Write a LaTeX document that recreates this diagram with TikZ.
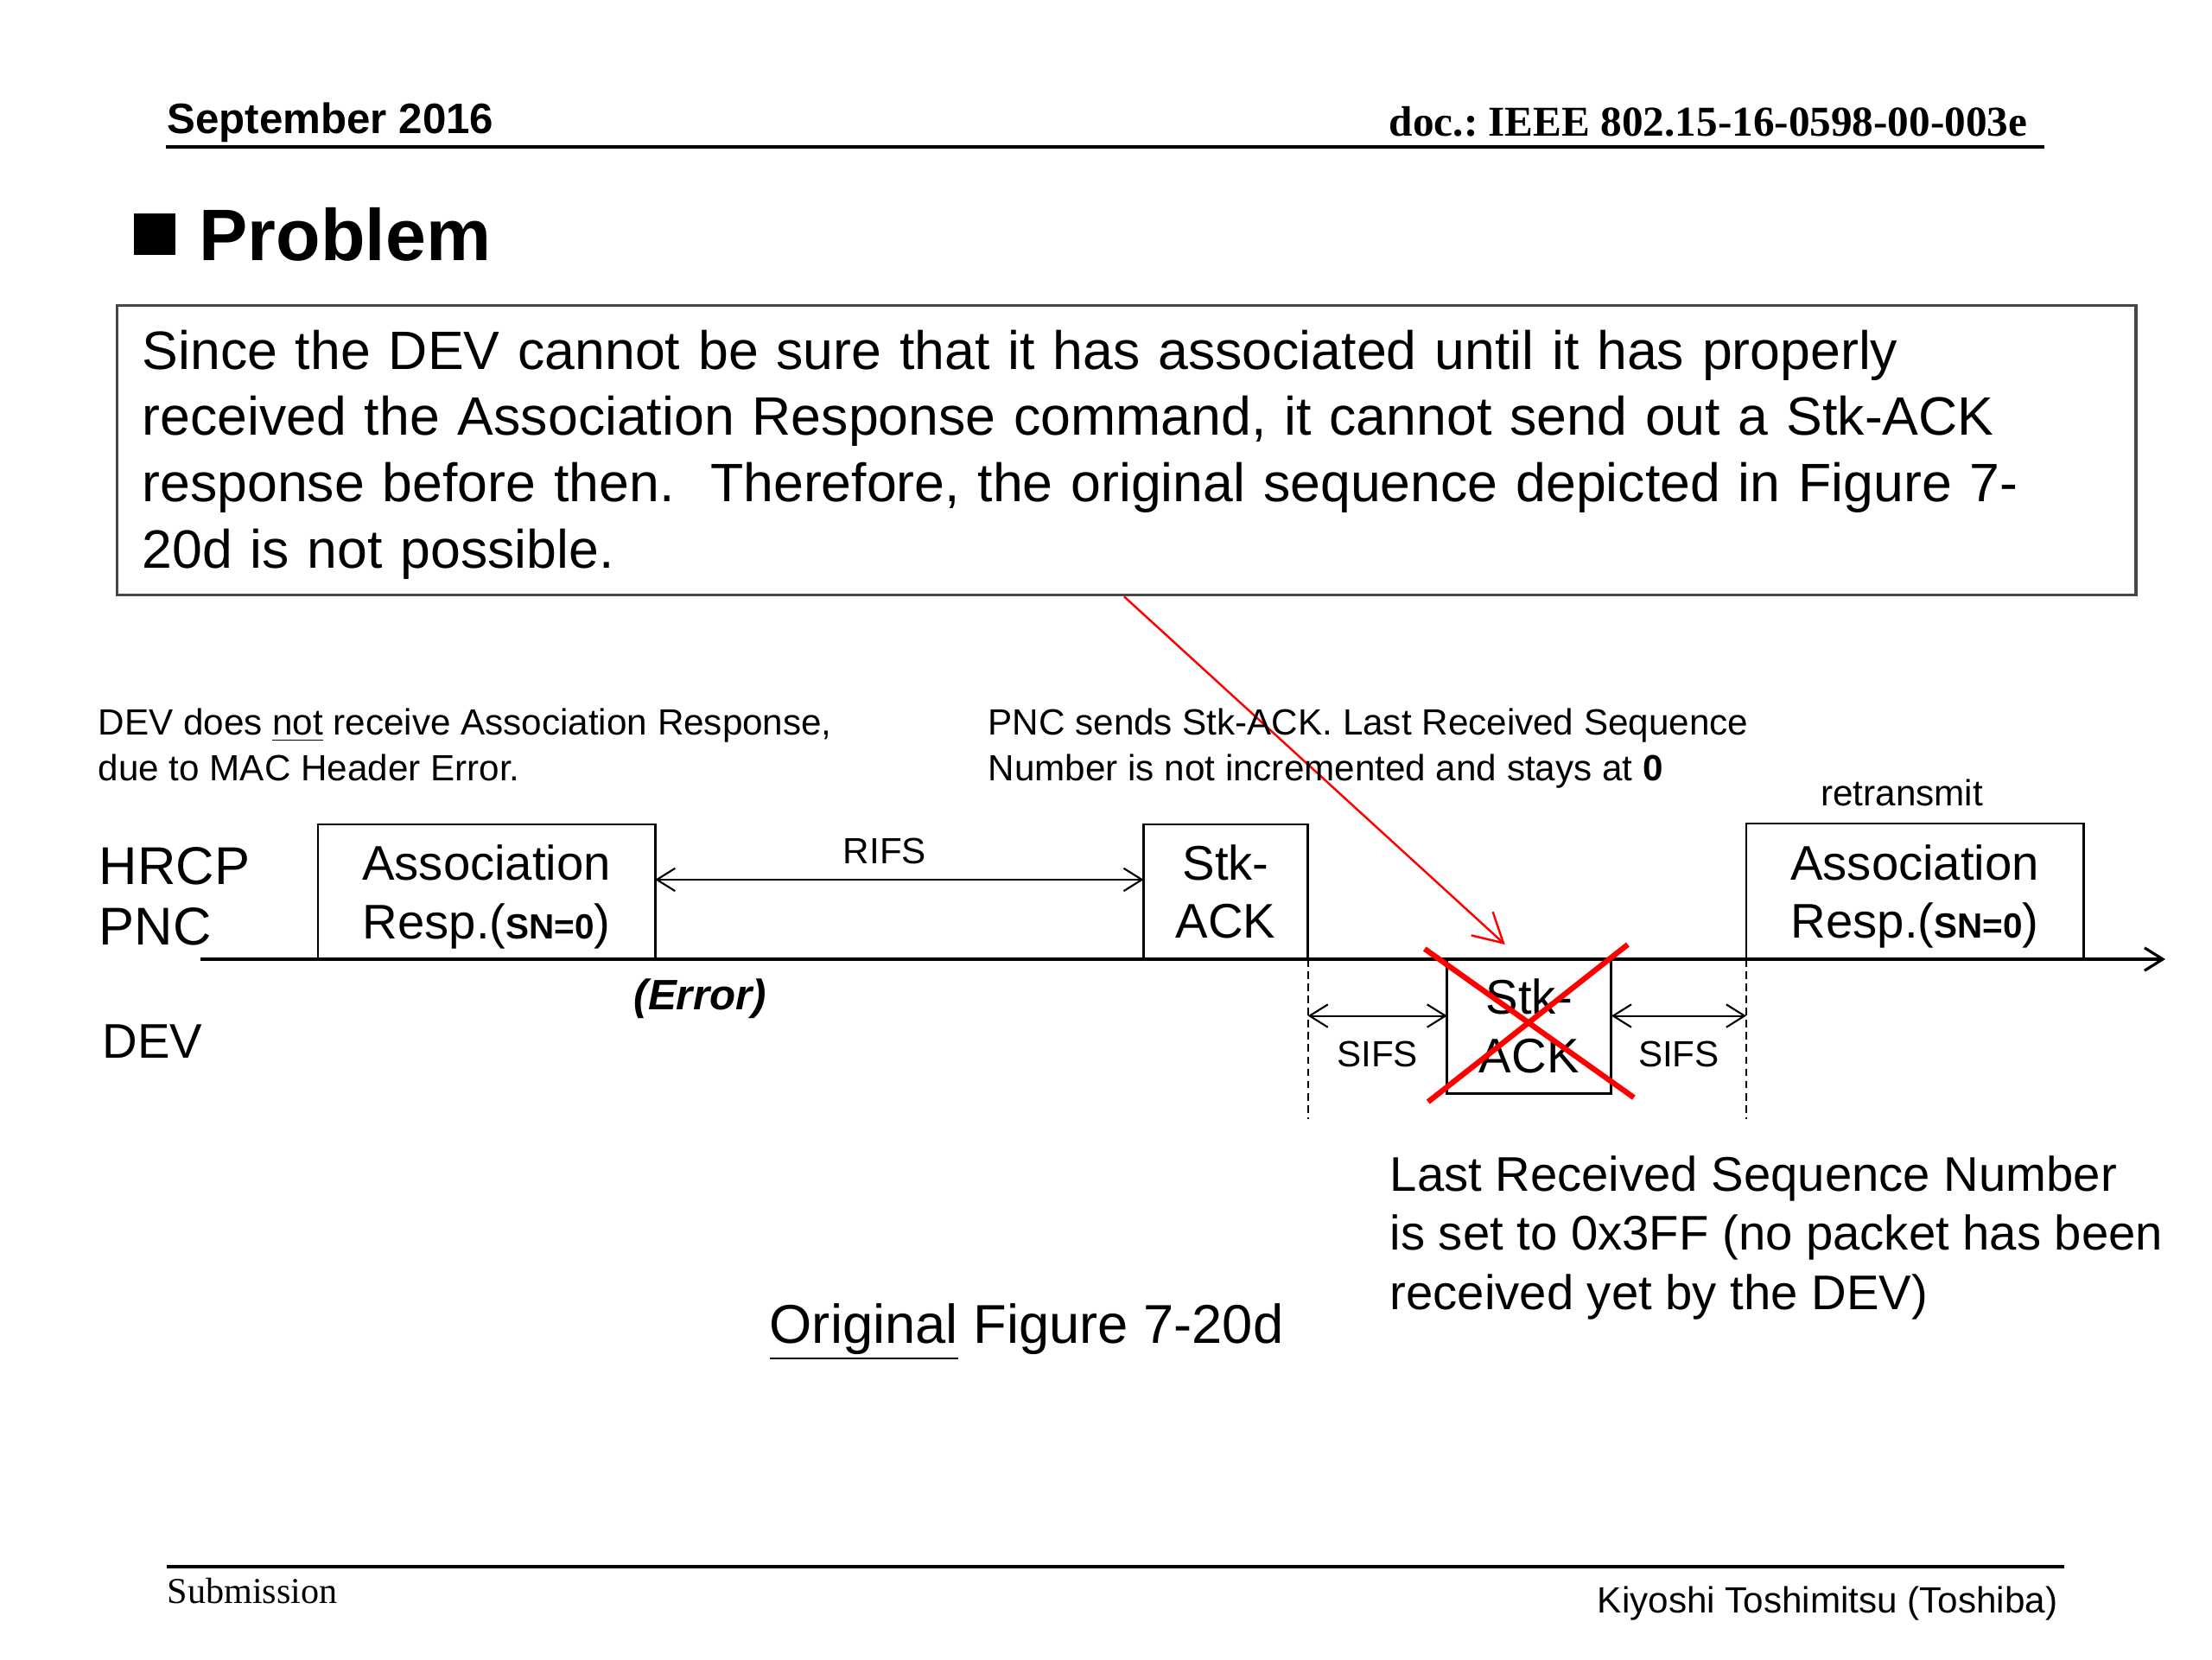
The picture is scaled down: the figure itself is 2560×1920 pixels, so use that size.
\documentclass[tikz,border=0pt]{standalone}
\usepackage{fontspec}
\setmainfont{Liberation Sans}
\newfontfamily\seriffont{Liberation Serif}
\usetikzlibrary{arrows.meta,positioning,calc}
\definecolor{xred}{RGB}{255,0,0}
\definecolor{boxgray}{RGB}{70,70,70}
\newcommand{\fs}[2]{\fontsize{#1pt}{#2pt}\selectfont}
\frenchspacing
\tikzset{
  pkt/.style={rectangle,draw=black,line width=0.8pt,inner sep=0pt,outer sep=0pt,
              minimum height=1.56cm,minimum width=#1,align=center,font=\fs{16}{19.2}},
  pkt/.default=3.9cm,
  lbl/.style={inner sep=0pt,font=\fs{12}{14.8}},
  barbtip/.tip={Straight Barb[length=6pt,width=7.5pt]},
  dimarr/.style={barbtip-barbtip,line width=0.6pt},
  axis/.style={-barbtip,line width=0.9pt},
  guide/.style={line width=0.5pt,dash pattern=on 2.5pt off 1.5pt},
  cross/.style={draw=xred,line width=1.8pt},
  redarr/.style={-{Straight Barb[length=9.5pt,width=10.5pt]},draw=xred,line width=0.7pt},
}
\begin{document}
\begin{tikzpicture}[x=0.01cm,y=-0.01cm]
  \useasboundingbox (0,0) rectangle (2560,1920);
  % header
  \node[lbl,anchor=base west,font=\bfseries\fs{14}{17}] (date) at (193,154) {September 2016};
  \node[lbl,anchor=base east,font=\seriffont\bfseries\fs{14}{16}] (docid) at (2347,157) {doc.: IEEE 802.15-16-0598-00-003e};
  \draw[line width=1.1pt] (192,170) -- (2366,170);
  \fill (155,247) rectangle (203,295);
  \node[lbl,anchor=base west,font=\bfseries\fs{24}{28}] (title) at (230,301) {Problem};
  \node[draw=boxgray,line width=0.9pt,anchor=north west,minimum width=23.35cm,minimum height=3.35cm,
        inner xsep=0.29cm,inner ysep=0pt,text width=22.77cm,align=left,font=\fs{17.8}{21.8}] (txt) at (134,352)
    {\rule{0pt}{15.6pt}Since the DEV cannot be sure that it has associated until it has properly\\
     received the Association Response command, it cannot send out a Stk-ACK\\
     response before then.~ Therefore, the original sequence depicted in Figure 7-\\
     20d is not possible.};

  % time line
  \coordinate (t0) at (232,1110);
  \coordinate (t1) at (2506,1110);
  \node[pkt,anchor=south west] (a1) at (368,1110) {\rule{0pt}{15pt}Association\\Resp.(\textbf{\fs{11.5}{13}SN=0})};
  \node[pkt=1.9cm,right=5.65cm of a1] (stk) {Stk-\\ACK};
  \node[pkt=1.9cm,minimum height=1.55cm,below right=0cm and 1.61cm of stk] (dev) {Stk-\\ACK};
  \node[pkt=3.9cm,minimum height=1.57cm,above right=0cm and 1.56cm of dev] (re) {\rule{0pt}{15pt}Association\\Resp.(\textbf{\fs{11.5}{13}SN=0})};
  \draw[axis] (t0) -- (t1);
  \draw[guide] (stk.south east) -- ++(0,185);
  \draw[guide] (re.south west) -- ++(0,185);

  \coordinate (rifs) at ($(a1.east)+(0,-14)$);
  \draw[dimarr] (rifs) -- node[lbl,anchor=base,xshift=-0.17cm,yshift=0.18cm] (rifslbl) {RIFS} (stk.west |- rifs);
  \coordinate (s1) at ($(dev.west)+(0,-12)$);
  \coordinate (s2) at ($(dev.east)+(0,-12)$);
  \draw[dimarr] (stk.south east |- s1) -- node[lbl,anchor=base,yshift=-0.59cm] (sifs1) {SIFS} (s1);
  \draw[dimarr] (s2) -- node[lbl,anchor=base,yshift=-0.59cm] (sifs2) {SIFS} (re.south west |- s2);

  \draw[cross] ($(dev.north west)+(-26,-12)$) -- ($(dev.south east)+(26,5)$);
  \draw[cross] ($(dev.north east)+(19,-17)$) -- ($(dev.south west)+(-22,10)$);
  \draw[redarr] ($(txt.south west)+(1167,0)$) -- ($(dev.north west)+(67,-17)$);

  % labels (multi-line nodes sit on their last baseline)
  \node[lbl,anchor=base west,font=\fs{17.5}{20}] (hrcp) at (114,1023) {HRCP};
  \node[lbl,anchor=base west,font=\fs{17.5}{20}] (pnc) at (114,1093) {PNC};
  \node[lbl,anchor=base west,font=\fs{16}{19}] (devlbl) at (118,1224) {DEV};
  \node[lbl,anchor=base,font=\bfseries\itshape\fs{14}{17}] (err) at ($(a1.south east)+(52,58)$) {(Error)};
  \node[lbl,anchor=base] (retx) at ($(re.north)+(-15,-20)$) {retransmit};
  \node[lbl,anchor=base west,align=left] (note1) at (113,903)
    {DEV does \underline{not} receive Association Response,\\due to MAC Header Error.};
  \node[lbl,anchor=base west,align=left] (note2) at (1143,903)
    {PNC sends Stk-ACK. Last Received Sequence\\Number is not incremented and stays at \textbf{0}};
  \node[lbl,anchor=base west,align=left,font=\fs{16}{19.35}] (note3) at (1608,1515)
    {Last Received Sequence Number\\is set to 0x3FF (no packet has been\\received yet by the DEV)};
  \node[lbl,anchor=base west,font=\fs{18}{21}] (cap) at (890,1554) {\underline{Original} Figure 7-20d};

  % footer
  \draw[line width=0.9pt] (193,1813) -- (2389,1813);
  \node[lbl,anchor=base west,font=\seriffont\fs{12}{14}] (sub) at (193,1855) {Submission};
  \node[lbl,anchor=base east] (auth) at (2382,1866) {Kiyoshi Toshimitsu (Toshiba)};
\end{tikzpicture}
\end{document}
